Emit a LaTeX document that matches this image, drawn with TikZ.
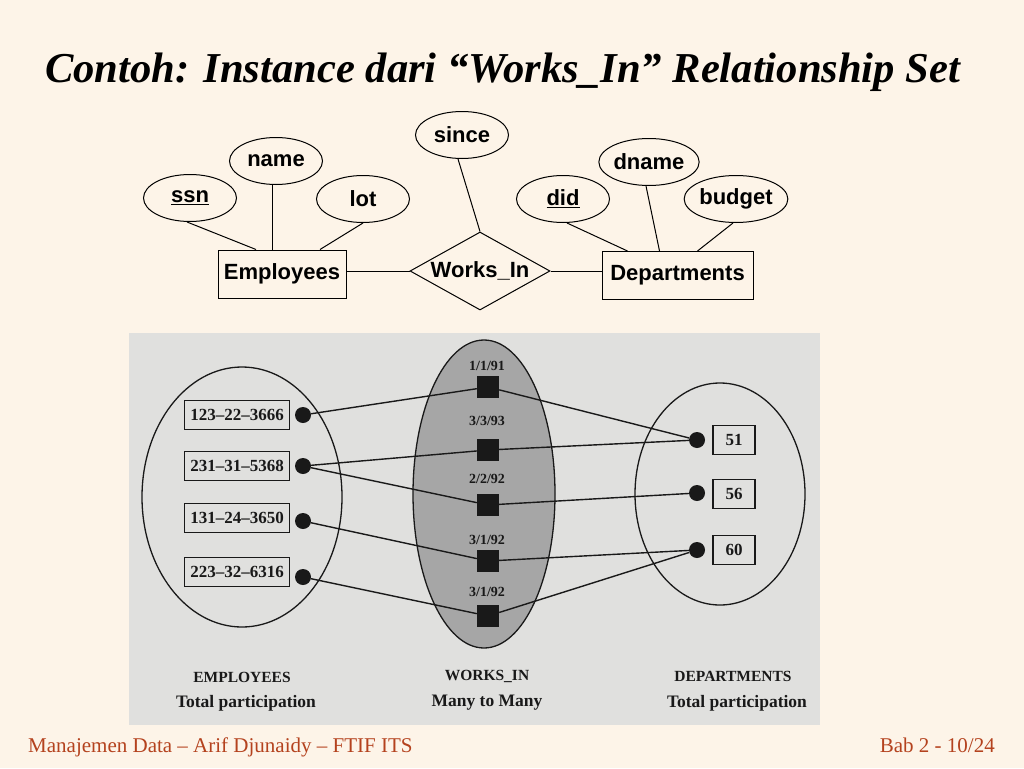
\documentclass[tikz,border=0pt]{standalone}
\usepackage{graphicx}
\usepackage{fontspec}
\setmainfont{Liberation Serif}
\newfontfamily\ersans{Liberation Sans}
\usetikzlibrary{shapes.geometric}
\definecolor{bgc}{HTML}{FDF4E8}
\definecolor{footc}{RGB}{180,66,30}
\definecolor{photoc}{RGB}{224,224,222}
\definecolor{wsetc}{RGB}{166,166,166}
\definecolor{inkc}{RGB}{25,25,25}
\tikzset{
  attr/.style={ellipse, draw, line width=1pt, minimum width=93pt, minimum height=47pt, inner sep=0pt,
    font=\ersans\bfseries\fontsize{22}{24}\selectfont},
  ent/.style={rectangle, draw, line width=1pt, minimum height=48pt, inner sep=0pt,
    font=\ersans\bfseries\fontsize{22}{24}\selectfont},
  rel/.style={diamond, draw, line width=1pt, aspect=1.8, minimum width=140pt, minimum height=78pt, inner sep=0pt,
    font=\ersans\bfseries\fontsize{22}{24}\selectfont},
  erl/.style={line width=1pt},
  sl/.style={line width=1.4pt, draw=inkc},
  setell/.style={ellipse, draw=inkc, line width=1.3pt, inner sep=0pt},
  dotn/.style={circle, fill=inkc, minimum size=16pt, inner sep=0pt},
  sqn/.style={rectangle, fill=inkc, minimum size=22pt, inner sep=0pt},
  idbox/.style={draw=inkc, line width=1.3pt, minimum height=29pt, inner sep=0pt, text=inkc,
    font=\bfseries\fontsize{17}{19}\selectfont},
  datel/.style={text=inkc, inner sep=0pt, font=\bfseries\fontsize{14}{16}\selectfont},
  caph/.style={text=inkc, inner sep=0pt, font=\bfseries\fontsize{15.5}{17}\selectfont},
  capt/.style={text=inkc, inner sep=0pt, font=\bfseries\fontsize{17.5}{19}\selectfont},
  foot/.style={text=footc, inner sep=0pt, font=\fontsize{21}{24}\selectfont}
}
\begin{document}
\begin{tikzpicture}[x=1pt,y=-1pt]
\fill[bgc] (0,0) rectangle (1024,768);
\useasboundingbox (0,0) rectangle (1024,768);

% title
\node[anchor=base west, inner sep=0pt] (title) at (45,82)
  {\resizebox{915pt}{!}{\fontsize{36}{40}\selectfont\bfseries\itshape Contoh: Instance dari “Works\_In” Relationship Set}};

% ER diagram
\node[attr] (ssn) at (190,198) {\underline{ssn}};
\node[attr] (name) at (276,161) {name};
\node[attr] (lot) at (363,199) {lot};
\node[attr] (since) at (462,135) {since};
\node[attr] (did) at (563,199) {\underline{did}};
\node[attr] (dname) at (649,162) {dname};
\node[attr, minimum width=94pt] (budget) at (736,199) {budget};
\node[ent, minimum width=128pt] (emp) at (282,274) {Employees};
\node[ent, minimum width=151pt] (dept) at (677.5,275.5) {Departments};
\node[rel] (wi) at (480,271) {Works\_In};

\draw[erl] ([xshift=-3pt]ssn.south) -- ([xshift=-26pt]emp.north);
\draw[erl] ([xshift=-4pt]name.south) -- ([xshift=-10pt]emp.north);
\draw[erl] (lot.south) -- ([xshift=38pt]emp.north);
\draw[erl] ([xshift=-4pt]since.south) -- (wi.north);
\draw[erl] ([xshift=4pt]did.south) -- ([xshift=-50pt]dept.north);
\draw[erl] ([xshift=-3pt]dname.south) -- ([xshift=-18pt]dept.north);
\draw[erl] ([xshift=-3pt]budget.south) -- ([xshift=20pt]dept.north);
\draw[erl] (emp.east |- wi.west) -- (wi.west);
\draw[erl] (wi.east) -- (dept.west |- wi.east);

% scanned instance figure
\fill[photoc] (129,333) rectangle (820,725);
\node[setell, minimum width=200pt, minimum height=260pt] (empset) at (242,497) {};
\node[setell, fill=wsetc, minimum width=142pt, minimum height=308pt] (wiset) at (484,494) {};
\node[setell, minimum width=170pt, minimum height=222pt] (deptset) at (720,494) {};

\node[idbox, minimum width=105pt] (b1) at (237,415) {123–22–3666};
\node[idbox, minimum width=105pt] (b2) at (237,466) {231–31–5368};
\node[idbox, minimum width=105pt] (b3) at (237,518) {131–24–3650};
\node[idbox, minimum width=105pt] (b4) at (237,572) {223–32–6316};
\node[dotn] (e1) at (303,415) {};
\node[dotn] (e2) at (303,466) {};
\node[dotn] (e3) at (303,521) {};
\node[dotn] (e4) at (303,577) {};

\node[datel] (l1) at (487,366) {1/1/91};
\node[datel] (l2) at (487,421) {3/3/93};
\node[datel] (l3) at (487,479) {2/2/92};
\node[datel] (l4) at (487,540) {3/1/92};
\node[datel] (l5) at (487,592) {3/1/92};
\node[sqn] (s1) at (488,387) {};
\node[sqn] (s2) at (488,450) {};
\node[sqn] (s3) at (488,505) {};
\node[sqn] (s4) at (488,561) {};
\node[sqn] (s5) at (488,616) {};

\node[dotn] (d1) at (697,440) {};
\node[dotn] (d2) at (697,493) {};
\node[dotn] (d3) at (697,550) {};
\node[idbox, minimum width=42pt] (c1) at (734,440) {51};
\node[idbox, minimum width=42pt] (c2) at (734,494) {56};
\node[idbox, minimum width=42pt] (c3) at (734,550) {60};

\draw[sl] (e1) -- (s1) -- (d1);
\draw[sl] (e2) -- (s2) -- (d1);
\draw[sl] (e2) -- (s3) -- (d2);
\draw[sl] (e3) -- (s4) -- (d3);
\draw[sl] (e4) -- (s5) -- (d3);

\node[caph] (c_emp) at (242,677) {EMPLOYEES};
\node[capt] (t_emp) at (246,703) {Total participation};
\node[caph] (c_wi) at (487,676) {WORKS\_IN};
\node[capt] (t_wi) at (487,703) {Many to Many};
\node[caph] (c_dept) at (733,676) {DEPARTMENTS};
\node[capt] (t_dept) at (737,703) {Total participation};

% footer
\node[foot, anchor=base west] (footl) at (28,752) {Manajemen Data – Arif Djunaidy – FTIF ITS};
\node[foot, anchor=base east] (footr) at (995,752) {Bab 2 - 10/24};
\end{tikzpicture}
\end{document}
